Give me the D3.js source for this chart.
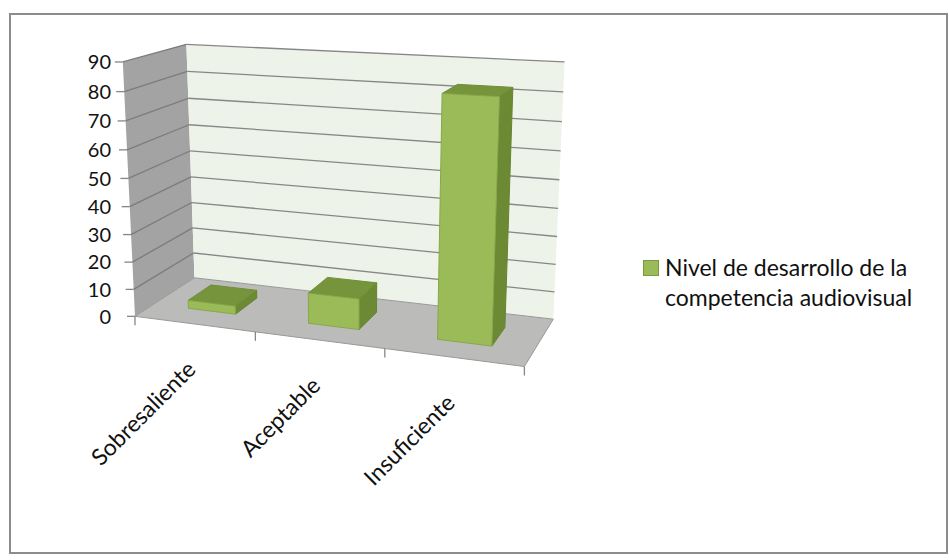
<!DOCTYPE html>
<html><head><meta charset="utf-8">
<script src="https://cdn.jsdelivr.net/npm/d3@7"></script>
<style>body{margin:0;background:#fff}</style>
</head><body>
<script>
// ---- data ----
const categories = ["Sobresaliente", "Aceptable", "Insuficiente"];
const values = [3, 11, 83];
const yTicks = [0, 10, 20, 30, 40, 50, 60, 70, 80, 90];
const seriesLabel = ["Nivel de desarrollo de la", "competencia audiovisual"];

const W = 949, H = 560;
const svg = d3.select("body").append("svg").attr("width", W).attr("height", H);

// ---- perspective camera ----
// reference points of the plot box: [x (category units), height (0..1), depth (0..1), screenX, screenY]
const calib = [
  [0, 0, 0, 135, 317], [0, 1, 0, 123, 62], [0, 0, 1, 195, 278], [0, 1, 1, 186, 44],
  [3, 1, 1, 565, 63], [3, 0, 1, 553, 320], [3, 0, 0, 525, 367],
  [1, 0, 0, 256, 331], [2, 0, 0, 384, 348],
  [0, 10 / 90, 0, 133, 289], [0, 50 / 90, 0, 128.5, 179], [3, 50 / 90, 1, 559, 178]
];
function solveCamera(pts) {
  const A = [], b = [];
  pts.forEach(([X, Y, Z, u, v]) => {
    A.push([X, Y, Z, 1, 0, 0, 0, 0, -u * X, -u * Y, -u * Z]); b.push(u);
    A.push([0, 0, 0, 0, X, Y, Z, 1, -v * X, -v * Y, -v * Z]); b.push(v);
  });
  const n = 11;
  const M = Array.from({length: n}, (_, i) => {
    const row = new Array(n + 1).fill(0);
    for (let j = 0; j < n; j++) for (let k = 0; k < A.length; k++) row[j] += A[k][i] * A[k][j];
    for (let k = 0; k < A.length; k++) row[n] += A[k][i] * b[k];
    return row;
  });
  for (let c = 0; c < n; c++) {
    let piv = c;
    for (let r = c + 1; r < n; r++) if (Math.abs(M[r][c]) > Math.abs(M[piv][c])) piv = r;
    [M[c], M[piv]] = [M[piv], M[c]];
    for (let r = 0; r < n; r++) {
      if (r === c) continue;
      const f = M[r][c] / M[c][c];
      for (let k = c; k <= n; k++) M[r][k] -= f * M[c][k];
    }
  }
  return M.map((row, i) => row[n] / row[i]);
}
const P = solveCamera(calib);
function project(X, Y, Z) {
  const w = P[8] * X + P[9] * Y + P[10] * Z + 1;
  return [(P[0] * X + P[1] * Y + P[2] * Z + P[3]) / w, (P[4] * X + P[5] * Y + P[6] * Z + P[7]) / w];
}
const poly = pts => pts.map(p => project(...p).join(",")).join(" ");

// ---- scales ----
const nCat = categories.length;
const xCat = d3.scaleBand().domain(categories).range([0, nCat]);
const xBar = d3.scaleBand().domain(categories).range([0, nCat]).paddingInner(0.6).paddingOuter(0.3);
const zBar = d3.scaleBand().domain([seriesLabel.join(" ")]).range([0, 1]).paddingOuter(0.75);
const y = d3.scaleLinear().domain([0, d3.max(yTicks)]).range([0, 1]);

// ---- frame ----
svg.append("rect").attr("x", 10).attr("y", 14).attr("width", 937).attr("height", 539)
  .attr("fill", "#fff").attr("stroke", "#8c8c8c").attr("stroke-width", 2);

// ---- walls and floor ----
const g = svg.append("g");
g.append("polygon").attr("points", poly([[0, 0, 0], [0, 1, 0], [0, 1, 1], [0, 0, 1]]))
  .attr("fill", "#a3a3a3");
g.append("polygon").attr("points", poly([[0, 0, 1], [nCat, 0, 1], [nCat, 1, 1], [0, 1, 1]]))
  .attr("fill", "#eef3e9");
g.append("polygon").attr("points", poly([[0, 0, 0], [nCat, 0, 0], [nCat, 0, 1], [0, 0, 1]]))
  .attr("fill", "#bbbcba").attr("stroke", "#999").attr("stroke-width", 1);

// gridlines on back and side walls
yTicks.filter(t => t > 0).forEach(t => {
  const h = y(t);
  const a = project(0, h, 1), b2 = project(nCat, h, 1), c = project(0, h, 0);
  g.append("line").attr("x1", a[0]).attr("y1", a[1]).attr("x2", b2[0]).attr("y2", b2[1])
    .attr("stroke", "#878787").attr("stroke-width", 1.3);
  g.append("line").attr("x1", c[0]).attr("y1", c[1]).attr("x2", a[0]).attr("y2", a[1])
    .attr("stroke", "#7c7c7c").attr("stroke-width", 1.3);
});

// ---- bars ----
categories.forEach((c, i) => {
  const x0 = xBar(c), x1 = x0 + xBar.bandwidth();
  const z0 = zBar(zBar.domain()[0]), z1 = z0 + zBar.bandwidth();
  const h = y(values[i]);
  const bar = g.append("g");
  bar.append("polygon").attr("points", poly([[x1, 0, z0], [x1, 0, z1], [x1, h, z1], [x1, h, z0]]))
    .attr("fill", "#6b8a33").attr("stroke", "#66842f").attr("stroke-width", 1);
  bar.append("polygon").attr("points", poly([[x0, h, z0], [x1, h, z0], [x1, h, z1], [x0, h, z1]]))
    .attr("fill", "#76943c").attr("stroke", "#6f8e37").attr("stroke-width", 1);
  bar.append("polygon").attr("points", poly([[x0, 0, z0], [x1, 0, z0], [x1, h, z0], [x0, h, z0]]))
    .attr("fill", "#9bbb59").attr("stroke", "#87a84a").attr("stroke-width", 1);
});

// ---- axes ----
const font = "Lato, 'Open Sans', sans-serif";
const yLabelX = 111;
yTicks.forEach(t => {
  const p = project(0, y(t), 0);
  svg.append("line").attr("x1", p[0] - 8).attr("y1", p[1]).attr("x2", p[0]).attr("y2", p[1])
    .attr("stroke", "#868686").attr("stroke-width", 1.3);
  svg.append("text").attr("x", yLabelX).attr("y", p[1]).attr("dy", "0.36em")
    .attr("text-anchor", "end").attr("font-family", font).attr("font-size", 20)
    .attr("fill", "#111").text(t);
});
d3.range(nCat + 1).forEach(k => {
  const p = project(k, 0, 0);
  svg.append("line").attr("x1", p[0]).attr("y1", p[1]).attr("x2", p[0]).attr("y2", p[1] + 9)
    .attr("stroke", "#868686").attr("stroke-width", 1.3);
});
categories.forEach(c => {
  const p = project(xCat(c) + xCat.bandwidth() / 2, 0, 0);
  svg.append("text")
    .attr("transform", `translate(${p[0] + 3},${p[1] + 47}) rotate(-45)`)
    .attr("text-anchor", "end").attr("font-family", font).attr("font-size", 23)
    .attr("fill", "#111").text(c);
});

// ---- legend ----
const lg = svg.append("g");
lg.append("rect").attr("x", 643.5).attr("y", 260.5).attr("width", 15).attr("height", 15)
  .attr("fill", "#9bbb59").attr("stroke", "#7a9a3f").attr("stroke-width", 1);
seriesLabel.forEach((s, i) => {
  lg.append("text").attr("x", 665).attr("y", 276 + i * 30)
    .attr("font-family", font).attr("font-size", 23).attr("fill", "#111").text(s);
});
</script>
</body></html>
